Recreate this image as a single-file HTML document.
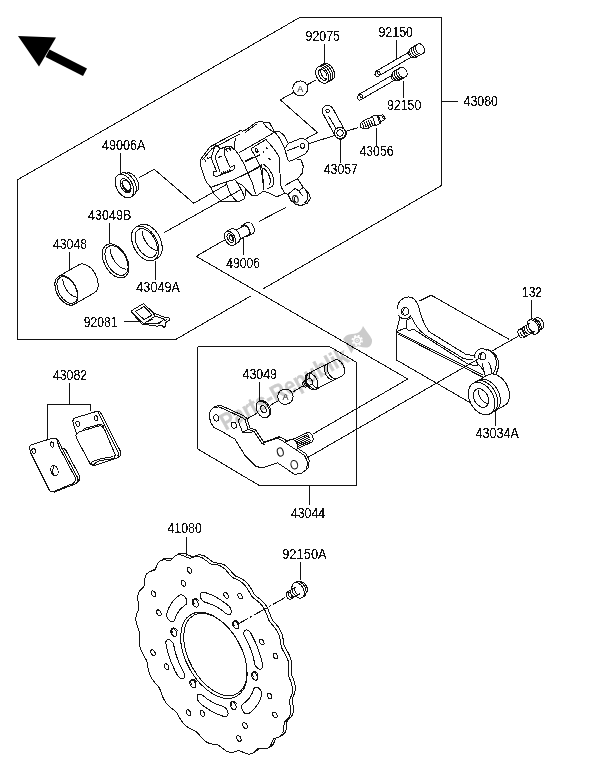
<!DOCTYPE html>
<html><head><meta charset="utf-8"><title>Rear Brake</title>
<style>
html,body{margin:0;padding:0;background:#fff;}
body{width:600px;height:775px;overflow:hidden;font-family:"Liberation Sans",sans-serif;}
svg{display:block;filter:grayscale(1);}
.l{fill:none;stroke:#111;stroke-width:1;stroke-linecap:butt;stroke-linejoin:round;shape-rendering:crispEdges;}
.f{fill:#fff;stroke:#111;stroke-width:1;stroke-linejoin:round;shape-rendering:crispEdges;}
.t{font-family:"Liberation Sans",sans-serif;font-size:14px;fill:#111;stroke:#111;stroke-width:0.12px;}
.n{fill:#fff;stroke:none;}
</style></head><body>
<svg width="600" height="775" viewBox="0 0 600 775">
<defs><filter id="thr" x="0" y="0" width="100%" height="100%" filterUnits="userSpaceOnUse" color-interpolation-filters="sRGB"><feComponentTransfer><feFuncA type="discrete" tableValues="0 0 0 0 0 0 0 0 0 0 1 1 1 1 1 1 1 1 1 1"/></feComponentTransfer></filter></defs>
<rect width="600" height="775" fill="#fff"/>

<g class="l" id="frames">
<polyline points="17.5,179.8 299.7,17.5 441.5,17.5 441.5,185.5 175.7,339.5 17.5,339.5 17.5,179.8" />
<polyline points="441.5,101.5 457.5,101.5" />
<polyline points="197.5,346.5 329.5,346.5 356.5,362.3 356.5,485.5 259.3,485.5 197.5,448.8 197.5,346.5" />
<polyline points="309.5,485.5 309.5,505" />
<line x1="251" y1="295.7" x2="263.2" y2="288.6" stroke="#fff" stroke-width="3"/>
<polyline points="224.5,240 196.2,256.3 407.8,379 313,434" />
</g>
<g id="p92075">
<polyline class="l" points="324.50,43.50 324.50,64.00" />
<path class="f" d="M326.62,82.84 L332.34,79.54 A9.0,5.8 61 0 0 323.50,63.86 L317.78,67.16 A9.0,5.8 61 0 0 326.62,82.84 Z" /><ellipse class="l" cx="322.20" cy="75.00" rx="9.0" ry="5.8" transform="rotate(61 322.20 75.00)"/>
<path class="l" d="M328.53,81.74 A9.0,5.8 61 0 0 319.69,66.06" />
<path class="l" d="M330.43,80.64 A9.0,5.8 61 0 0 321.59,64.96" />
<ellipse class="l" cx="322.80" cy="74.80" rx="5.9" ry="3.6" transform="rotate(61 322.80 74.80)"/>
<path class="l" d="M326.0,79.7 A5.9,3.6 61 0 1 320.4,69.4" transform="translate(1.5,-0.8)"/>
</g>
<g id="cA1">
<polyline class="l" points="306.50,85.20 316.50,79.60" />
<polyline class="l" points="293.80,92.30 280.30,99.80 317.50,132.50 306.50,138.60" />
<circle class="f" cx="300.3" cy="88.4" r="7.5"/>
<text x="300.2" y="91.8" text-anchor="middle" font-family="Liberation Sans, sans-serif" font-size="9" fill="#222">A</text>
</g>
<polyline class="l" points="396.50,40.00 396.50,59.50" />
<g id="pin1"><path class="f" d="M379.38,75.58 L414.02,55.58 L411.27,50.82 L376.62,70.82 A2.0,2.9 30 0 0 379.38,75.58 Z" /><ellipse class="l" cx="378.70" cy="72.80" rx="1.9" ry="1.2" transform="rotate(61 378.70 72.80)"/><path class="f" d="M413.02,57.14 L415.62,55.64 A3.6,2.3 61 0 0 412.09,49.36 L409.49,50.86 A3.6,2.3 61 0 0 413.02,57.14 Z" /><path class="f" d="M416.28,57.22 L423.21,53.22 A5.3,3.4 61 0 0 418.01,43.98 L411.08,47.98 A5.3,3.4 61 0 0 416.28,57.22 Z" /><path class="l" d="M416.28,57.22 A5.3,3.4 61 0 1 411.08,47.98" /><path class="l" d="M418.19,56.12 A5.3,3.4 61 0 1 412.98,46.88" /><path class="l" d="M420.09,55.02 A5.3,3.4 61 0 1 414.89,45.78" /><path class="l" d="M422.00,53.92 A5.3,3.4 61 0 1 416.79,44.68" /></g>
<polyline class="l" points="403.50,81.00 403.50,98.00" />
<g id="pin2"><path class="f" d="M361.98,98.98 L396.62,78.98 L393.87,74.22 L359.23,94.22 A2.0,2.9 30 0 0 361.98,98.98 Z" /><ellipse class="l" cx="361.30" cy="96.20" rx="1.9" ry="1.2" transform="rotate(61 361.30 96.20)"/><path class="f" d="M395.62,80.54 L398.22,79.04 A3.6,2.3 61 0 0 394.69,72.76 L392.09,74.26 A3.6,2.3 61 0 0 395.62,80.54 Z" /><path class="f" d="M398.88,80.62 L405.81,76.62 A5.3,3.4 61 0 0 400.61,67.38 L393.68,71.38 A5.3,3.4 61 0 0 398.88,80.62 Z" /><path class="l" d="M398.88,80.62 A5.3,3.4 61 0 1 393.68,71.38" /><path class="l" d="M400.79,79.52 A5.3,3.4 61 0 1 395.58,70.28" /><path class="l" d="M402.69,78.42 A5.3,3.4 61 0 1 397.49,69.18" /><path class="l" d="M404.60,77.32 A5.3,3.4 61 0 1 399.39,68.08" /></g>
<g id="p43057">
<polyline class="l" points="340.80,139.00 340.80,162.50" />
<polyline class="l" points="308.50,143.80 334.30,135.60" />
<polyline class="l" points="345.60,131.50 358.00,127.60" />
<path class="f" d="M322.8,113.4 L335.2,135.8 A5.8,5.8 0 1 0 344.0,128.8 L332.8,108.4 A5.3,5.3 0 1 0 322.8,113.4 Z" />
<circle class="l" cx="340" cy="133" r="3.1"/>
<circle class="l" cx="340" cy="133" r="5.7"/>
<circle class="l" cx="327.6" cy="110.8" r="1.8"/>
<polyline class="l" points="328.60,116.20 336.60,129.40" />
</g>
<g id="p43056">
<polyline class="l" points="376.30,128.00 376.30,145.50" />
<path class="f" d="M360.0,123.6 L365.5,119.6 L371,117.8 L372.3,116.2 L376.8,115.0 L378.4,116.0 L382.8,114.8 L385.0,117.0 L384.4,120.0 L380.8,121.8 L380.0,123.6 L375.6,125.6 L374.2,124.8 L368.6,128.0 L363.2,128.8 L360.2,127.0 Z" />
<polyline class="l" points="362.00,122.80 364.30,128.30" />
<polyline class="l" points="364.10,122.00 366.40,127.50" />
<polyline class="l" points="366.20,121.20 368.50,126.70" />
<polyline class="l" points="368.30,120.40 370.60,125.90" />
<polyline class="l" points="370.40,119.60 372.70,125.10" />
<polyline class="l" points="372.30,116.20 375.60,125.60" />
<polyline class="l" points="376.80,115.00 380.00,123.60" />
<polyline class="l" points="378.40,116.00 380.80,121.80" />
<ellipse class="l" cx="383.80" cy="117.60" rx="1.8" ry="1.0" transform="rotate(61 383.80 117.60)"/>
</g>
<g id="p49006A">
<polyline class="l" points="120.50,153.00 120.50,172.50" />
<polyline class="l" points="139.30,177.50 154.30,169.30 193.80,203.30" />
<path class="f" d="M133.21,193.63 L136.32,191.83 A10.6,6.8 61 0 0 125.91,173.37 L122.79,175.17 A10.6,6.8 61 0 0 133.21,193.63 Z" /><ellipse class="l" cx="128.00" cy="184.40" rx="10.6" ry="6.8" transform="rotate(61 128.00 184.40)"/>
<path class="f" d="M130.68,197.25 L133.45,195.65 A12.8,8.1 61 0 0 120.89,173.35 L118.12,174.95 A12.8,8.1 61 0 0 130.68,197.25 Z" /><ellipse class="l" cx="124.40" cy="186.10" rx="12.8" ry="8.1" transform="rotate(61 124.40 186.10)"/>
<ellipse class="l" cx="125.60" cy="185.70" rx="7.6" ry="4.6" transform="rotate(61 125.60 185.70)"/>
<ellipse class="l" cx="126.60" cy="185.30" rx="5.6" ry="3.2" transform="rotate(61 126.60 185.30)"/>
<path class="l" d="M130.5,190.3 A6,3.5 61 0 1 124.6,179.8" transform="translate(-1.4,0.8)"/>
</g>
<g id="p43049B">
<polyline class="l" points="109.50,223.00 109.50,243.80" />
<ellipse class="l" cx="115.60" cy="260.90" rx="18.4" ry="11.4" transform="rotate(61 115.60 260.90)"/>
<ellipse class="l" cx="116.50" cy="260.50" rx="16.2" ry="9.7" transform="rotate(61 116.50 260.50)"/>
<path class="l" d="M125.0,269.6 A16.2,9.7 61 0 1 109.2,249.4" transform="translate(0.9,-0.5)"/>
</g>
<g id="p43049A">
<polyline class="l" points="155.50,261.00 155.50,279.50" />
<path class="f" d="M154.43,259.88 L157.89,257.88 A18.8,11.8 61 0 0 139.44,225.12 L135.97,227.12 A18.8,11.8 61 0 0 154.43,259.88 Z" /><ellipse class="l" cx="145.20" cy="243.50" rx="18.8" ry="11.8" transform="rotate(61 145.20 243.50)"/>
<ellipse class="l" cx="146.20" cy="243.00" rx="15.6" ry="9.4" transform="rotate(61 146.20 243.00)"/>
<path class="l" d="M154.6,252.2 A15.6,9.4 61 0 1 139.2,232.6" transform="translate(3.0,-1.7)"/>
</g>
<g id="p43048">
<polyline class="l" points="69.50,252.00 69.50,270.00" />
<path class="f" d="M74.25,304.34 L94.60,292.59 A16.0,9.9 61 0 0 78.90,264.71 L58.55,276.46 A16.0,9.9 61 0 0 74.25,304.34 Z" /><ellipse class="l" cx="66.40" cy="290.40" rx="16.0" ry="9.9" transform="rotate(61 66.40 290.40)"/>
<ellipse class="l" cx="67.20" cy="290.00" rx="14.4" ry="8.7" transform="rotate(61 67.20 290.00)"/>
<path class="l" d="M75.0,298.4 A14.4,8.7 61 0 1 60.6,280.4" transform="translate(2.2,-1.2)"/>
</g>
<g id="p92081">
<polyline class="l" points="124.00,321.50 138.50,321.50" />
<path class="f" d="M131.0,311.0 L143.5,303.5 L153.0,312.5 L162.0,316.5 L169.0,318.0 L169.6,320.0 L167.0,322.0 L165.0,323.0 L166.0,326.0 L163.6,327.6 L162.0,325.0 L157.0,326.2 L150.0,325.2 L145.0,324.2 L142.0,324.0 L132.5,313.5 Z" />
<path class="f" d="M135.5,311.5 L144.0,306.5 L152.2,315.0 L144.0,319.6 Z" />
<path class="l" d="M131.0,311.0 L140.5,321.2 L144.0,323.5 L155.0,316.2 L153.0,312.5" />
<path class="l" d="M155.0,316.2 L164.0,319.0 L167.0,322.0" />
<path class="l" d="M144.0,323.5 L150.0,324.0 L158.0,323.2 L162.0,321.2 L164.0,319.0" />
<polyline class="l" points="148.00,321.20 153.00,319.00" stroke-width="1.6"/>
<polyline class="l" points="159.20,323.20 161.20,322.00" stroke-width="1.6"/>
<polyline class="l" points="164.20,320.60 167.20,319.40" stroke-width="1.6"/>
</g>
<g id="p49006" transform="translate(1.0,0.9)">
<polyline class="l" points="242.50,236.00 242.50,253.80" />
<polyline class="l" points="285.00,206.60 257.80,220.60" />
<path class="f" d="M247.64,235.00 L251.97,232.50 A6.2,3.9 61 0 0 245.89,221.70 L241.56,224.20 A6.2,3.9 61 0 0 247.64,235.00 Z" /><ellipse class="l" cx="244.60" cy="229.60" rx="6.2" ry="3.9" transform="rotate(61 244.60 229.60)"/>
<path class="l" d="M249.04,234.20 A6.2,3.9 61 0 1 242.96,223.40" />
<path class="f" d="M238.06,239.16 L247.15,233.91 A5.0,3.2 61 0 0 242.24,225.19 L233.14,230.44 A5.0,3.2 61 0 0 238.06,239.16 Z" />
<path class="f" d="M232.78,244.11 L237.28,241.51 A7.7,4.9 61 0 0 229.72,228.09 L225.22,230.69 A7.7,4.9 61 0 0 232.78,244.11 Z" /><ellipse class="l" cx="229.00" cy="237.40" rx="7.7" ry="4.9" transform="rotate(61 229.00 237.40)"/>
<ellipse class="l" cx="229.40" cy="237.20" rx="4.6" ry="2.8" transform="rotate(61 229.40 237.20)"/>
<ellipse class="l" cx="230.00" cy="236.90" rx="2.6" ry="1.5" transform="rotate(61 230.00 236.90)"/>
</g><g id="caliper">
<path class="f" d="M200.3,159.9 L210.2,146.5 L241.1,130.2 L242.8,131.3 L246.3,129.6 L255.7,122.6 L258.6,121.8 L263.1,122.0 L269.5,122.6 L274.2,131.3 L280.0,131.9 L284.7,136.0 L288.2,143.4 L301.0,138.3 L305.7,139.5 L308.6,143.0 L308.8,148.8 L305.7,153.5 L295.2,158.8 L301.0,159.6 L303.3,166.3 L302.2,173.3 L297.5,178.6 L303.3,187.3 L308.8,193.5 L310.4,198.0 L307.5,203.0 L301.5,205.4 L295.5,204.6 L291.0,200.4 L288.0,194.4 L284.7,193.4 L276.5,196.9 L268.3,192.8 L263.7,191.0 L256.7,195.7 L252.0,195.7 L246.0,189.0 L244.6,198.4 L241.1,200.8 L233.5,201.9 L223.0,201.9 L219.5,199.6 L214.3,194.3 L210.8,187.3 L206.7,182.7 L203.8,175.7 L200.8,166.3 Z" />
<path class="l" d="M202.6,159.6 L211.8,148.9 L239.6,134.0" />
<path class="l" d="M245.0,132.6 L256.7,123.9" />
<path class="l" d="M263.1,122.3 L266.0,126.7 L274.2,132.5" />
<path class="l" d="M238.8,152.9 L274.2,132.5 L275.4,133.6" />
<path class="l" d="M244.6,161.1 L253.3,157.0" />
<path class="l" d="M210.2,146.5 L215.5,144.5 L211.0,158.0 L216.5,171.0 L213.5,172.0 L213.0,174.5 L215.5,176.5 L218.5,176.0 L233.0,170.0 L235.0,168.0 L234.5,165.5 L231.5,166.5" />
<path class="l" d="M220.0,148.5 C219.2,149.9 215.9,154.3 215.5,157.0 C215.1,159.7 216.8,162.1 217.6,164.5 C218.3,166.9 219.6,170.3 220.0,171.5" />
<path class="l" d="M215.5,144.5 L220.0,148.5 L225.0,147.5 L226.0,146.3 L231.0,146.3 L234.0,149.5" />
<path class="l" d="M225.0,147.5 L224.0,154.0 L230.5,168.0" />
<path class="l" d="M217.8,157.6 L222.4,156.0" />
<path class="l" d="M208.4,158.2 L210.6,157.6" />
<path class="l" d="M204.4,158.6 L205.6,161.6" />
<path class="l" d="M207.0,156.6 L208.2,159.6" />
<path class="l" d="M225.8,147.8 L227.4,151.6" />
<path class="l" d="M229.0,147.0 L230.6,150.8" />
<path class="l" d="M225.2,149.6 L231.0,148.0" />
<path class="l" d="M220.6,175.2 L221.6,172.5 L222.6,174.5 L223.6,171.8 L224.6,173.8 L225.6,171.1 L226.6,173.0 L227.6,170.4 L228.6,172.3 L229.6,169.7 L230.6,171.6" />
<path class="l" d="M235.3,138.3 L234.1,148.8 L238.8,154.7 L244.0,164.0 L247.5,172.2 L252.2,182.7 L255.7,194.3" />
<path class="l" d="M210.8,187.3 L227.7,181.5 L233.5,179.8 L248.1,172.8 L256.8,168.7 L261.3,165.6" />
<path class="l" d="M226.5,182.4 C226.7,183.2 227.1,185.5 227.7,187.3 C228.3,189.1 229.0,191.4 230.0,193.2 C231.0,194.9 232.3,196.5 233.5,197.8 C234.7,199.2 236.4,200.7 237.0,201.3" />
<path class="l" d="M235.3,180.4 C235.7,180.9 236.7,182.0 237.6,183.3 C238.5,184.7 239.5,186.7 240.5,188.5 C241.5,190.3 242.7,192.7 243.4,194.3 C244.1,196.0 244.4,197.7 244.6,198.4" />
<path class="l" d="M237.6,183.3 C238.3,183.6 240.2,183.9 241.7,185.0 C243.1,186.1 244.9,188.1 246.3,189.7 C247.8,191.2 248.8,193.3 250.4,194.3 C252.0,195.3 254.8,195.3 255.7,195.5" />
<path class="l" d="M251.0,148.8 L256.7,159.3 L260.3,166.3 L262.2,176.0 L263.8,189.7" />
<path class="l" d="M250.8,148.8 L266.0,139.5 L273.0,147.7 L278.3,155.3" />
<path class="l" d="M245.0,161.9 L260.2,154.7" />
<path class="l" d="M245.0,174.5 L261.3,165.2" />
<ellipse class="l" cx="256.60" cy="150.40" rx="2.0" ry="1.1" transform="rotate(61 256.60 150.40)"/>
<path class="l" d="M262.6,150.6 L264.2,153.4" />
<path class="l" d="M268.6,158.0 L270.6,160.2" />
<path class="l" d="M266.2,147.2 L267.6,149.2" />
<path class="l" d="M278.8,154.7 C278.9,156.2 279.4,160.9 279.6,164.0 C279.8,167.1 279.8,169.8 280.0,173.3 C280.2,176.8 279.8,181.7 280.6,185.0 C281.4,188.3 284.0,191.8 284.7,193.2" />
<path class="l" d="M261.3,164.0 C261.5,165.2 262.2,168.3 262.5,171.0 C262.8,173.7 262.9,177.2 263.1,180.3 C263.3,183.4 263.6,188.1 263.7,189.7" />
<path class="l" d="M263.1,164.0 C264.2,165.0 267.8,167.3 269.5,169.8 C271.2,172.3 273.1,176.5 273.6,179.2 C274.1,181.9 273.5,184.6 272.4,186.2 C271.3,187.8 268.1,188.1 267.2,188.5" />
<path class="l" d="M263.6,168.0 C264.3,168.9 266.9,171.2 268.0,173.2 C269.1,175.2 270.2,178.2 270.4,180.2 C270.6,182.2 269.4,184.5 269.2,185.4" />
<path class="l" d="M274.2,131.3 C274.8,132.1 276.7,134.1 278.0,136.0 C279.3,137.9 280.9,140.9 282.0,143.0 C283.1,145.1 284.0,146.9 284.7,148.8 C285.4,150.8 285.7,152.6 286.4,154.7 C287.1,156.8 287.3,160.4 288.8,161.1 C290.3,161.8 294.1,159.2 295.2,158.8" />
<path class="l" d="M284.7,148.8 L288.2,143.4" />
<circle class="l" cx="302.4" cy="145.9" r="2.4"/>
<path class="l" d="M286.8,150.8 L299.0,146.4" />
<path class="l" d="M297.5,178.6 L284.7,185.6" />
<path class="l" d="M288.0,194.4 L295.2,188.3 L298.7,190.8 L303.2,196.4" />
<path class="l" d="M298.7,190.8 L303.3,187.3" />
<ellipse class="l" cx="295.40" cy="199.20" rx="3.8" ry="2.7" transform="rotate(75 295.40 199.20)"/>
<path class="l" d="M294.2,202.2 A3.8,2.7 75 0 1 294.6,196.0" transform="translate(1.3,0.2)"/>
<path class="l" d="M305.6,190.2 C305.9,190.9 307.3,193.0 307.6,194.6 C307.9,196.2 307.9,198.2 307.4,199.6 C306.9,201.0 305.1,202.4 304.6,203.0" />
</g><g id="p43034A">
<path class="n" d="M396.5,331.6 L396.5,360.0 L470.7,403.0 L483.5,395.0 L483.5,375.2 L508.2,338.8 L431.2,295.2 L420.3,300.6 L404.0,312.0 Z" />
<path class="l" d="M396.5,331.6 L396.5,360.0 L470.7,403.0" />
<path class="l" d="M508.8,339.2 L431.2,295.2 L419.6,301.0" />
<path class="l" d="M396.5,331.6 L483.2,375.2" />
<path class="l" d="M397.6,333.8 L483.2,377.4" />
<path class="f" d="M396.5,331.6 L399.8,317.5 L397.6,306.6 C398.5,301.5 402,297.6 408.4,296.9 C413.5,297.2 417.5,301.5 419.3,308.8 C420.5,315 422.5,321.8 429,331.6 L465.8,354.3 L475.5,355.8 L478,366 L468.4,364.4 L413.8,329.4 L408.6,330.7 L406.3,328.3 L402.4,329.2 L396.5,331.6 Z" />
<path class="l" d="M411.7,317.5 C413.5,322 416,327.5 424.7,334.8 L463.7,358.7 L473.4,359.8" />
<path class="l" d="M406.3,328.3 L406.0,320.5 L411.7,317.5" />
<path class="l" d="M413.8,329.4 L468.4,364.4" />
<circle class="n" cx="404.7" cy="311.4" r="7.0"/>
<path class="l" d="M411.2,314.8 A7.4,7.4 0 0 1 398.4,315.2" />
<circle class="l" cx="404.9" cy="311.4" r="3.8"/>
<path class="l" d="M402.6,313.8 A3.3,3.3 0 0 1 403.6,308.4" transform="translate(1.2,0.2)"/>
<path class="f" d="M485.0,349.2 C490.5,349.6 496.2,353.5 498.2,360.2 C499.4,366.5 497.4,372.8 493.4,377.6 L486,379 L482.1,363.5 Z" />
<path class="l" d="M488.6,350.2 C494,352.5 496.4,357 496.4,363.2 C496.2,369 494,373.4 490.6,378.2" />
<circle class="n" cx="482.1" cy="356.3" r="7.0"/>
<path class="l" d="M474.9,358.0 A7.4,7.4 0 0 1 487.6,351.3" />
<circle class="l" cx="482.3" cy="356.3" r="3.7"/>
<path class="l" d="M480.0,358.7 A3.2,3.2 0 0 1 481.0,353.4" transform="translate(1.2,0.2)"/>
<path class="l" d="M476.2,361.6 C480,366.5 485.0,370 485.2,376.0 L485.4,381.2 L492,385.4 M488.4,361.6 C491.6,366.5 492.0,372.2 490.8,378.6 L493.8,382.2" />
<path class="f" d="M490.16,413.75 L504.88,405.25 A17.4,11.8 61 0 0 487.77,374.95 L473.04,383.45 A17.4,11.8 61 0 0 490.16,413.75 Z" /><ellipse class="l" cx="481.60" cy="398.60" rx="17.4" ry="11.8" transform="rotate(61 481.60 398.60)"/>
<ellipse class="l" cx="481.00" cy="398.00" rx="10.0" ry="6.9" transform="rotate(61 481.00 398.00)"/>
<path class="l" d="M486.2,405.0 A10,6.9 61 0 1 476.0,391.2" transform="translate(2.6,-1.5)"/>
<path class="l" d="M493.10,412.05 A17.4,11.8 61 0 0 475.99,381.75" />
<path class="l" d="M495.70,410.55 A17.4,11.8 61 0 0 478.59,380.25" />
<polyline class="l" points="495.60,410.00 495.60,425.60" />
</g>
<polyline class="l" points="531.60,300.40 531.60,318.20" />
<polyline class="l" points="518.20,336.20 489.50,352.40" />
<g id="p132"><path class="f" d="M537.38,331.40 L542.23,328.60 A6.084,3.9779999999999998 61 0 0 536.25,318.00 L531.40,320.80 A6.084,3.9779999999999998 61 0 0 537.38,331.40 Z" /><path class="l" d="M539.56,330.14 A6.084,3.9779999999999998 61 0 0 533.58,319.54" /><path class="f" d="M536.66,333.79 L538.22,332.89 A7.8,5.1 61 0 0 530.56,319.31 L529.00,320.21 A7.8,5.1 61 0 0 536.66,333.79 Z" /><ellipse class="l" cx="532.83" cy="327.00" rx="7.8" ry="5.1" transform="rotate(61 532.83 327.00)"/><path class="n" d="M523.71,337.69 L535.14,331.09 L530.52,322.91 L519.09,329.51 Z" /><polyline class="l" points="523.71,337.69 535.14,331.09" /><polyline class="l" points="519.09,329.51 530.52,322.91" /><ellipse class="f" cx="521.40" cy="333.60" rx="4.7" ry="3.1" transform="rotate(61 521.40 333.60)"/><path class="l" d="M525.87,336.45 A4.7,3.1 61 0 1 521.25,328.26" /><path class="l" d="M528.02,335.20 A4.7,3.1 61 0 1 523.40,327.02" /><path class="l" d="M530.18,333.96 A4.7,3.1 61 0 1 525.56,325.77" /><path class="l" d="M532.34,332.71 A4.7,3.1 61 0 1 527.72,324.53" /><path class="l" d="M534.49,331.47 A4.7,3.1 61 0 1 529.87,323.28" /></g><g id="p43049">
<polyline class="l" points="259.50,382.00 259.50,400.50" />
<polyline class="l" points="256.60,413.40 244.50,420.20" />
<polyline class="l" points="270.00,405.40 278.40,400.60" />
<polyline class="l" points="292.40,392.20 302.40,386.20" />
<path class="f" d="M267.22,417.34 L268.43,416.64 A9.0,5.9 61 0 0 259.59,400.96 L258.38,401.66 A9.0,5.9 61 0 0 267.22,417.34 Z" /><ellipse class="l" cx="262.80" cy="409.50" rx="9.0" ry="5.9" transform="rotate(61 262.80 409.50)"/>
<ellipse class="l" cx="263.40" cy="409.20" rx="3.8" ry="2.5" transform="rotate(61 263.40 409.20)"/>
<circle class="f" cx="285.4" cy="396.7" r="7.7"/>
<text x="285.4" y="399.8" text-anchor="middle" font-family="Liberation Sans, sans-serif" font-size="9" fill="#222">A</text>
</g>
<g id="damper" transform="rotate(3 311.6 381.6)">
<path class="f" d="M315.92,389.27 L341.90,374.27 A8.8,5.6 61 0 0 333.26,358.93 L307.28,373.93 A8.8,5.6 61 0 0 315.92,389.27 Z" /><ellipse class="l" cx="311.60" cy="381.60" rx="8.8" ry="5.6" transform="rotate(61 311.60 381.60)"/>
<path class="l" d="M317.31,388.47 A8.8,5.6 61 0 1 308.67,373.13" />
<path class="l" d="M319.90,386.97 A8.8,5.6 61 0 1 311.26,371.63" />
<path class="l" d="M334.54,378.52 A8.8,5.6 61 0 1 325.90,363.18" />
<path class="l" d="M337.14,377.02 A8.8,5.6 61 0 1 328.50,361.68" />
<path class="f" d="M306.27,387.21 L311.90,383.96 A3.0,1.9 61 0 0 308.96,378.74 L303.33,381.99 A3.0,1.9 61 0 0 306.27,387.21 Z" /><ellipse class="l" cx="304.80" cy="384.60" rx="3.0" ry="1.9" transform="rotate(61 304.80 384.60)"/>
<path class="l" d="M307.57,386.46 A3.0,1.9 61 0 1 304.63,381.24" />
<path class="l" d="M308.87,385.71 A3.0,1.9 61 0 1 305.93,380.49" />
<path class="l" d="M310.17,384.96 A3.0,1.9 61 0 1 307.22,379.74" />
</g>
<g id="p43044">
<path class="f" d="M211.2,412.2 L212.2,409.0 L214.7,406.5 L220.4,405.2 L242.9,415.5 L246.7,418.0 L249.9,428.0 L255.7,430.0 L263.7,442.0 L279.2,436.8 L284.2,439.2 L306.2,454.0 L309.2,460.5 L308.2,468.0 L302.7,472.2 L295.7,472.8 L289.2,468.0 L279.2,461.2 L264.2,466.2 L257.7,465.0 L246.7,454.0 L236.7,437.8 L224.2,430.2 L215.4,426.0 L211.9,420.0 Z" />
<g transform="rotate(5 290.0 446.4)">
<path class="f" d="M292.55,450.93 L311.17,440.18 A5.2,3.3 61 0 0 306.07,431.12 L287.45,441.87 A5.2,3.3 61 0 0 292.55,450.93 Z" />
<polyline class="l" points="294.41,440.04 306.97,432.79" />
<polyline class="l" points="295.26,441.51 307.82,434.26" />
<polyline class="l" points="296.11,442.99 308.67,435.74" />
<polyline class="l" points="296.96,444.46 309.52,437.21" />
<polyline class="l" points="297.81,445.93 310.37,438.68" />
<path class="f" d="M291.45,452.53 L296.21,449.78 A6.0,3.8 61 0 0 290.32,439.32 L285.55,442.07 A6.0,3.8 61 0 0 291.45,452.53 Z" />
</g>
<path class="f" d="M209.5,413.8 L210.5,410.5 L213.0,408.0 L218.8,406.8 L241.2,417.0 L245.0,419.5 L248.2,429.5 L254.0,431.5 L262.0,443.5 L277.5,438.2 L282.5,440.8 L304.5,455.5 L307.5,462.0 L306.5,469.5 L301.0,473.8 L294.0,474.2 L287.5,469.5 L277.5,462.8 L262.5,467.8 L256.0,466.5 L245.0,455.5 L235.0,439.2 L222.5,431.8 L213.8,427.5 L210.2,421.5 Z" />
<path class="l" d="M241.2,417.0 L238.0,420.5 L242.5,432.0 L248.2,429.5" />
<path class="l" d="M242.5,432.0 L248.8,433.0 L254.0,431.5" />
<path class="l" d="M262.0,443.5 L265.5,445.5" />
<ellipse class="l" cx="216.25" cy="418.00" rx="3.2" ry="2.5" transform="rotate(70 216.25 418.00)"/>
<ellipse class="l" cx="233.75" cy="425.25" rx="3.2" ry="2.5" transform="rotate(70 233.75 425.25)"/>
<ellipse class="l" cx="280.30" cy="452.00" rx="4.2" ry="2.9" transform="rotate(75 280.30 452.00)"/>
<ellipse class="l" cx="294.30" cy="464.70" rx="4.3" ry="3.3" transform="rotate(75 294.30 464.70)"/>
</g>
<g id="p43082">
<polyline class="l" points="69.50,383.00 69.50,404.50" />
<polyline class="l" points="47.50,438.60 47.50,404.50 90.50,404.50 90.50,411.40" />
<path class="f" d="M63.1,448.0 L65.8,450.1 L79.6,476.1 L80.0,479.9 L76.5,483.2 L73.2,480.7 L59.4,448.0 Z" />
<path class="f" d="M53.9,438.1 L57.6,439.1 L61.8,448.0 L77.2,477.0 L78.3,480.3 L75.0,484.0 L54.1,492.2 L53.0,491.7 Z" />
<path class="f" d="M29.5,448.0 Q29.5,445.5 31.7,444.7 L52.6,438.1 Q55.6,437.8 57.0,440.3 L59.4,447.7 L75.0,477.0 Q76.5,481.0 73.2,483.4 L53.4,491.7 Q50.4,492.4 49.0,489.5 L31.0,453.5 Z" />
<ellipse class="l" cx="33.75" cy="450.97" rx="2.6" ry="1.8" transform="rotate(72 33.75 450.97)"/>
<ellipse class="l" cx="52.08" cy="444.55" rx="2.6" ry="1.8" transform="rotate(72 52.08 444.55)"/>
<ellipse class="l" cx="54.47" cy="470.58" rx="5.2" ry="3.5" transform="rotate(72 54.47 470.58)"/>
<path class="l" d="M53.6,474.6 Q51.5,470.6 54.1,466.4" />
<path class="f" d="M72.8,421.6 Q72.8,418.7 75.4,417.8 L96.6,411.4 Q99.9,410.6 101.4,413.9 L120.8,452.1 L120.5,455.4 L117.2,457.9 L93.3,466.0 L76.8,434.8 Z" />
<path class="l" d="M98.1,411.7 L99.6,415.4 L118.5,453.2 L117.9,456.1" />
<ellipse class="l" cx="77.75" cy="423.83" rx="2.6" ry="1.8" transform="rotate(72 77.75 423.83)"/>
<ellipse class="l" cx="96.08" cy="418.33" rx="2.6" ry="1.8" transform="rotate(72 96.08 418.33)"/>
<path class="f" d="M75.9,435.2 Q78.3,431.5 82.7,430.8 L93.3,427.5 L100.7,425.7 Q103.6,426.8 105.3,431.2 L115.3,455.0 L113.5,458.7 L100.7,460.5 Q95.5,462.0 93.3,465.3 L90.4,464.2 L76.8,438.9 Z" />
<path class="l" d="M90.4,464.2 Q91.9,461.6 94.1,460.9 L100.7,458.7 L113.5,456.5" />
<path class="l" d="M82.7,430.8 Q83.1,429.0 85.3,428.2 L100.7,424.2" />
<path class="l" d="M100.7,424.2 L102.9,425.3 L103.6,426.8" />
</g><g id="rotor">
<path class="f" d="M269.3,747.1 L267.9,747.3 L266.3,747.4 L264.8,747.2 L263.2,747.0 L261.7,746.9 L260.3,747.2 L259.3,748.1 L258.3,749.1 L257.3,750.2 L256.2,751.1 L255.0,751.8 L253.7,752.3 L252.3,752.5 L250.8,752.4 L249.2,752.0 L247.5,751.4 L245.9,750.7 L244.2,749.9 L242.6,749.2 L241.1,748.9 L239.8,749.3 L238.4,749.8 L237.1,750.3 L235.7,750.6 L234.2,750.7 L232.7,750.6 L231.1,750.2 L229.5,749.6 L227.9,748.7 L226.3,747.5 L224.6,746.3 L223.0,745.0 L221.5,743.7 L219.9,742.9 L218.4,742.7 L216.8,742.6 L215.2,742.4 L213.6,742.2 L212.0,741.7 L210.4,741.1 L208.8,740.1 L207.3,738.9 L205.7,737.5 L204.2,735.9 L202.8,734.2 L201.4,732.5 L200.0,730.9 L198.5,729.6 L196.9,728.8 L195.2,728.1 L193.6,727.4 L191.9,726.5 L190.3,725.5 L188.7,724.3 L187.2,722.9 L185.8,721.3 L184.5,719.5 L183.3,717.6 L182.1,715.6 L181.0,713.6 L179.9,711.7 L178.6,710.0 L177.0,708.8 L175.4,707.5 L173.8,706.3 L172.2,704.9 L170.7,703.4 L169.3,701.8 L168.0,700.0 L166.9,698.1 L165.9,696.1 L165.0,694.0 L164.2,691.9 L163.5,689.8 L162.7,687.7 L161.8,685.9 L160.4,684.2 L159.0,682.5 L157.5,680.8 L156.1,679.1 L154.8,677.2 L153.7,675.3 L152.7,673.3 L152.0,671.3 L151.4,669.2 L151.0,667.1 L150.6,665.1 L150.3,663.0 L150.0,661.0 L149.4,659.0 L148.4,657.1 L147.2,655.1 L146.0,653.1 L145.0,651.1 L144.0,649.0 L143.3,647.0 L142.7,645.0 L142.4,643.0 L142.2,641.0 L142.3,639.1 L142.4,637.2 L142.6,635.3 L142.8,633.5 L142.6,631.6 L141.9,629.6 L141.1,627.5 L140.3,625.4 L139.7,623.2 L139.1,621.2 L138.8,619.2 L138.7,617.2 L138.8,615.4 L139.1,613.7 L139.6,612.1 L140.2,610.6 L140.9,609.1 L141.5,607.6 L141.7,606.0 L141.5,604.0 L141.2,601.9 L140.8,599.8 L140.6,597.8 L140.5,595.9 L140.7,594.0 L141.0,592.4 L141.6,590.9 L142.3,589.6 L143.3,588.4 L144.3,587.4 L145.3,586.4 L146.3,585.4 L147.0,584.1 L147.2,582.4 L147.3,580.5 L147.5,578.6 L147.8,576.8 L148.1,575.2 L148.7,573.7 L149.5,572.4 L150.5,571.4 L151.6,570.6 L152.9,570.0 L154.2,569.5 L155.6,569.1 L156.9,568.7 L158.0,567.8 L158.6,566.4 L159.2,564.9 L159.8,563.4 L160.5,562.0 L161.3,560.7 L162.3,559.7 L163.4,559.0 L164.7,558.5 L166.1,558.3 L167.7,558.2 L169.2,558.4 L170.8,558.6 L172.3,558.7 L173.7,558.4 L174.7,557.5 L175.7,556.5 L176.7,555.4 L177.8,554.5 L179.0,553.8 L180.3,553.3 L181.7,553.1 L183.2,553.2 L184.8,553.6 L186.5,554.2 L188.1,554.9 L189.8,555.7 L191.4,556.4 L192.9,556.7 L194.2,556.3 L195.6,555.8 L196.9,555.3 L198.3,555.0 L199.8,554.9 L201.3,555.0 L202.9,555.4 L204.5,556.0 L206.1,556.9 L207.7,558.1 L209.4,559.3 L211.0,560.6 L212.5,561.9 L214.1,562.7 L215.6,562.9 L217.2,563.0 L218.8,563.2 L220.4,563.4 L222.0,563.9 L223.6,564.5 L225.2,565.5 L226.7,566.7 L228.3,568.1 L229.8,569.7 L231.2,571.4 L232.6,573.1 L234.0,574.7 L235.5,576.0 L237.1,576.8 L238.8,577.5 L240.4,578.2 L242.1,579.1 L243.7,580.1 L245.3,581.3 L246.8,582.7 L248.2,584.3 L249.5,586.1 L250.7,588.0 L251.9,590.0 L253.0,592.0 L254.1,593.9 L255.4,595.6 L257.0,596.8 L258.6,598.1 L260.2,599.3 L261.8,600.7 L263.3,602.2 L264.7,603.8 L266.0,605.6 L267.1,607.5 L268.1,609.5 L269.0,611.6 L269.8,613.7 L270.5,615.8 L271.3,617.9 L272.2,619.7 L273.6,621.4 L275.0,623.1 L276.5,624.8 L277.9,626.5 L279.2,628.4 L280.3,630.3 L281.3,632.3 L282.0,634.3 L282.6,636.4 L283.0,638.5 L283.4,640.5 L283.7,642.6 L284.0,644.6 L284.6,646.6 L285.6,648.5 L286.8,650.5 L288.0,652.5 L289.0,654.5 L290.0,656.6 L290.7,658.6 L291.3,660.6 L291.6,662.6 L291.8,664.6 L291.7,666.5 L291.6,668.4 L291.4,670.3 L291.2,672.1 L291.4,674.0 L292.1,676.0 L292.9,678.1 L293.7,680.2 L294.3,682.4 L294.9,684.4 L295.2,686.4 L295.3,688.4 L295.2,690.2 L294.9,691.9 L294.4,693.5 L293.8,695.0 L293.1,696.5 L292.5,698.0 L292.3,699.6 L292.5,701.6 L292.8,703.7 L293.2,705.8 L293.4,707.8 L293.5,709.7 L293.3,711.6 L293.0,713.2 L292.4,714.7 L291.7,716.0 L290.7,717.2 L289.7,718.2 L288.7,719.2 L287.7,720.2 L287.0,721.5 L286.8,723.2 L286.7,725.1 L286.5,727.0 L286.2,728.8 L285.9,730.4 L285.3,731.9 L284.5,733.2 L283.5,734.2 L282.4,735.0 L281.1,735.6 L279.8,736.1 L278.4,736.5 L277.1,736.9 L276.0,737.8 L275.4,739.2 L274.8,740.7 L274.2,742.2 L273.5,743.6 L272.7,744.9 L271.7,745.9 L270.6,746.6 L269.3,747.1 Z" />
<path class="f" d="M266.5,748.7 L265.1,748.9 L263.5,749.0 L262.0,748.8 L260.4,748.6 L258.9,748.5 L257.5,748.8 L256.5,749.7 L255.5,750.7 L254.5,751.8 L253.4,752.7 L252.2,753.4 L250.9,753.9 L249.5,754.1 L248.0,754.0 L246.4,753.6 L244.7,753.0 L243.1,752.3 L241.4,751.5 L239.8,750.8 L238.3,750.5 L237.0,750.9 L235.6,751.4 L234.3,751.9 L232.9,752.2 L231.4,752.3 L229.9,752.2 L228.3,751.8 L226.7,751.2 L225.1,750.3 L223.5,749.1 L221.8,747.9 L220.2,746.6 L218.7,745.3 L217.1,744.5 L215.6,744.3 L214.0,744.2 L212.4,744.0 L210.8,743.8 L209.2,743.3 L207.6,742.7 L206.0,741.7 L204.5,740.5 L202.9,739.1 L201.4,737.5 L200.0,735.8 L198.6,734.1 L197.2,732.5 L195.7,731.2 L194.1,730.4 L192.4,729.7 L190.8,729.0 L189.1,728.1 L187.5,727.1 L185.9,725.9 L184.4,724.5 L183.0,722.9 L181.7,721.1 L180.5,719.2 L179.3,717.2 L178.2,715.2 L177.1,713.3 L175.8,711.6 L174.2,710.4 L172.6,709.1 L171.0,707.9 L169.4,706.5 L167.9,705.0 L166.5,703.4 L165.2,701.6 L164.1,699.7 L163.1,697.7 L162.2,695.6 L161.4,693.5 L160.7,691.4 L159.9,689.3 L159.0,687.5 L157.6,685.8 L156.2,684.1 L154.7,682.4 L153.3,680.7 L152.0,678.8 L150.9,676.9 L149.9,674.9 L149.2,672.9 L148.6,670.8 L148.2,668.7 L147.8,666.7 L147.5,664.6 L147.2,662.6 L146.6,660.6 L145.6,658.7 L144.4,656.7 L143.2,654.7 L142.2,652.7 L141.2,650.6 L140.5,648.6 L139.9,646.6 L139.6,644.6 L139.4,642.6 L139.5,640.7 L139.6,638.8 L139.8,636.9 L140.0,635.1 L139.8,633.2 L139.1,631.2 L138.3,629.1 L137.5,627.0 L136.9,624.8 L136.3,622.8 L136.0,620.8 L135.9,618.8 L136.0,617.0 L136.3,615.3 L136.8,613.7 L137.4,612.2 L138.1,610.7 L138.7,609.2 L138.9,607.6 L138.7,605.6 L138.4,603.5 L138.0,601.4 L137.8,599.4 L137.7,597.5 L137.9,595.6 L138.2,594.0 L138.8,592.5 L139.5,591.2 L140.5,590.0 L141.5,589.0 L142.5,588.0 L143.5,587.0 L144.2,585.7 L144.4,584.0 L144.5,582.1 L144.7,580.2 L145.0,578.4 L145.3,576.8 L145.9,575.3 L146.7,574.0 L147.7,573.0 L148.8,572.2 L150.1,571.6 L151.4,571.1 L152.8,570.7 L154.1,570.3 L155.2,569.4 L155.8,568.0 L156.4,566.5 L157.0,565.0 L157.7,563.6 L158.5,562.3 L159.5,561.3 L160.6,560.6 L161.9,560.1 L163.3,559.9 L164.9,559.8 L166.4,560.0 L168.0,560.2 L169.5,560.3 L170.9,560.0 L171.9,559.1 L172.9,558.1 L173.9,557.0 L175.0,556.1 L176.2,555.4 L177.5,554.9 L178.9,554.7 L180.4,554.8 L182.0,555.2 L183.7,555.8 L185.3,556.5 L187.0,557.3 L188.6,558.0 L190.1,558.3 L191.4,557.9 L192.8,557.4 L194.1,556.9 L195.5,556.6 L197.0,556.5 L198.5,556.6 L200.1,557.0 L201.7,557.6 L203.3,558.5 L204.9,559.7 L206.6,560.9 L208.2,562.2 L209.7,563.5 L211.3,564.3 L212.8,564.5 L214.4,564.6 L216.0,564.8 L217.6,565.0 L219.2,565.5 L220.8,566.1 L222.4,567.1 L223.9,568.3 L225.5,569.7 L227.0,571.3 L228.4,573.0 L229.8,574.7 L231.2,576.3 L232.7,577.6 L234.3,578.4 L236.0,579.1 L237.6,579.8 L239.3,580.7 L240.9,581.7 L242.5,582.9 L244.0,584.3 L245.4,585.9 L246.7,587.7 L247.9,589.6 L249.1,591.6 L250.2,593.6 L251.3,595.5 L252.6,597.2 L254.2,598.4 L255.8,599.7 L257.4,600.9 L259.0,602.3 L260.5,603.8 L261.9,605.4 L263.2,607.2 L264.3,609.1 L265.3,611.1 L266.2,613.2 L267.0,615.3 L267.7,617.4 L268.5,619.5 L269.4,621.3 L270.8,623.0 L272.2,624.7 L273.7,626.4 L275.1,628.1 L276.4,630.0 L277.5,631.9 L278.5,633.9 L279.2,635.9 L279.8,638.0 L280.2,640.1 L280.6,642.1 L280.9,644.2 L281.2,646.2 L281.8,648.2 L282.8,650.1 L284.0,652.1 L285.2,654.1 L286.2,656.1 L287.2,658.2 L287.9,660.2 L288.5,662.2 L288.8,664.2 L289.0,666.2 L288.9,668.1 L288.8,670.0 L288.6,671.9 L288.4,673.7 L288.6,675.6 L289.3,677.6 L290.1,679.7 L290.9,681.8 L291.5,684.0 L292.1,686.0 L292.4,688.0 L292.5,690.0 L292.4,691.8 L292.1,693.5 L291.6,695.1 L291.0,696.6 L290.3,698.1 L289.7,699.6 L289.5,701.2 L289.7,703.2 L290.0,705.3 L290.4,707.4 L290.6,709.4 L290.7,711.3 L290.5,713.2 L290.2,714.8 L289.6,716.3 L288.9,717.6 L287.9,718.8 L286.9,719.8 L285.9,720.8 L284.9,721.8 L284.2,723.1 L284.0,724.8 L283.9,726.7 L283.7,728.6 L283.4,730.4 L283.1,732.0 L282.5,733.5 L281.7,734.8 L280.7,735.8 L279.6,736.6 L278.3,737.2 L277.0,737.7 L275.6,738.1 L274.3,738.5 L273.2,739.4 L272.6,740.8 L272.0,742.3 L271.4,743.8 L270.7,745.2 L269.9,746.5 L268.9,747.5 L267.8,748.2 L266.5,748.7 Z" />
<ellipse class="l" cx="213.90" cy="655.30" rx="46.8" ry="27.8" transform="rotate(61.0 213.90 655.30)"/>
<ellipse class="l" cx="215.30" cy="654.50" rx="44.8" ry="26.3" transform="rotate(61.0 215.30 654.50)"/>
<path class="l" d="M240.4,741.3 L239.9,741.4 L239.3,741.4 L238.7,741.1 L238.1,740.7 L237.6,740.1 L237.1,739.4 L236.8,738.7 L236.6,737.9 L236.5,737.1 L236.6,736.5 L236.9,736.0 L237.3,735.6 L237.8,735.5 L238.4,735.5 L239.0,735.8 L239.6,736.2 L240.1,736.8 L240.6,737.5 L240.9,738.3 L241.1,739.0 L241.2,739.8 L241.1,740.4 L240.8,740.9 L240.4,741.3 Z" />
<path class="l" d="M246.6,728.3 L246.1,728.5 L245.5,728.4 L244.9,728.2 L244.3,727.8 L243.7,727.2 L243.3,726.5 L242.9,725.7 L242.7,725.0 L242.7,724.2 L242.8,723.6 L243.1,723.1 L243.5,722.7 L244.0,722.6 L244.5,722.6 L245.1,722.9 L245.7,723.3 L246.3,723.9 L246.7,724.6 L247.1,725.3 L247.3,726.1 L247.3,726.8 L247.2,727.5 L247.0,728.0 L246.6,728.3 Z" />
<path class="l" d="M189.9,715.5 L189.4,715.6 L188.8,715.6 L188.2,715.3 L187.6,714.9 L187.1,714.3 L186.6,713.6 L186.3,712.9 L186.1,712.1 L186.0,711.4 L186.2,710.7 L186.4,710.2 L186.8,709.9 L187.3,709.7 L187.9,709.8 L188.5,710.0 L189.1,710.4 L189.6,711.0 L190.1,711.7 L190.4,712.5 L190.6,713.2 L190.7,714.0 L190.6,714.6 L190.3,715.1 L189.9,715.5 Z" />
<path class="l" d="M203.9,716.3 L203.4,716.4 L202.8,716.4 L202.2,716.1 L201.6,715.7 L201.1,715.1 L200.6,714.4 L200.3,713.7 L200.1,712.9 L200.0,712.1 L200.2,711.5 L200.4,711.0 L200.8,710.6 L201.3,710.5 L201.9,710.5 L202.5,710.8 L203.1,711.2 L203.6,711.8 L204.1,712.5 L204.4,713.3 L204.6,714.0 L204.7,714.8 L204.6,715.4 L204.3,715.9 L203.9,716.3 Z" />
<path class="l" d="M154.6,655.6 L154.1,655.7 L153.5,655.7 L152.9,655.4 L152.3,655.0 L151.7,654.4 L151.3,653.7 L150.9,653.0 L150.7,652.2 L150.7,651.4 L150.8,650.8 L151.1,650.3 L151.5,649.9 L152.0,649.8 L152.5,649.8 L153.1,650.1 L153.7,650.5 L154.3,651.1 L154.7,651.8 L155.1,652.6 L155.3,653.3 L155.3,654.1 L155.2,654.7 L155.0,655.2 L154.6,655.6 Z" />
<path class="l" d="M168.2,669.6 L167.7,669.7 L167.1,669.7 L166.5,669.4 L165.9,669.0 L165.4,668.4 L164.9,667.7 L164.6,667.0 L164.4,666.2 L164.3,665.5 L164.4,664.8 L164.7,664.3 L165.1,664.0 L165.6,663.8 L166.2,663.9 L166.8,664.1 L167.4,664.5 L167.9,665.1 L168.4,665.8 L168.7,666.6 L168.9,667.4 L169.0,668.1 L168.9,668.7 L168.6,669.2 L168.2,669.6 Z" />
<path class="l" d="M155.1,596.6 L154.6,596.8 L154.0,596.7 L153.4,596.5 L152.8,596.0 L152.2,595.5 L151.8,594.8 L151.4,594.0 L151.2,593.2 L151.2,592.5 L151.3,591.8 L151.6,591.3 L151.9,591.0 L152.4,590.8 L153.0,590.9 L153.6,591.1 L154.2,591.6 L154.8,592.1 L155.2,592.8 L155.6,593.6 L155.8,594.4 L155.8,595.1 L155.7,595.8 L155.5,596.3 L155.1,596.6 Z" />
<path class="l" d="M160.4,615.7 L159.8,615.8 L159.3,615.8 L158.7,615.5 L158.1,615.1 L157.5,614.5 L157.1,613.8 L156.7,613.1 L156.5,612.3 L156.5,611.6 L156.6,610.9 L156.8,610.4 L157.2,610.1 L157.7,609.9 L158.3,609.9 L158.9,610.2 L159.5,610.6 L160.1,611.2 L160.5,611.9 L160.9,612.7 L161.1,613.4 L161.1,614.2 L161.0,614.8 L160.7,615.3 L160.4,615.7 Z" />
<path class="l" d="M191.1,573.2 L190.6,573.3 L190.0,573.3 L189.4,573.0 L188.8,572.6 L188.3,572.0 L187.8,571.3 L187.5,570.5 L187.3,569.8 L187.2,569.0 L187.3,568.4 L187.6,567.9 L188.0,567.5 L188.5,567.4 L189.1,567.4 L189.7,567.7 L190.3,568.1 L190.8,568.7 L191.3,569.4 L191.6,570.1 L191.8,570.9 L191.9,571.7 L191.8,572.3 L191.5,572.8 L191.1,573.2 Z" />
<path class="l" d="M184.9,586.1 L184.4,586.2 L183.9,586.2 L183.3,585.9 L182.7,585.5 L182.1,584.9 L181.7,584.2 L181.3,583.5 L181.1,582.7 L181.1,582.0 L181.2,581.3 L181.4,580.8 L181.8,580.5 L182.3,580.3 L182.9,580.4 L183.5,580.6 L184.1,581.0 L184.7,581.6 L185.1,582.3 L185.5,583.1 L185.7,583.8 L185.7,584.6 L185.6,585.2 L185.3,585.7 L184.9,586.1 Z" />
<path class="l" d="M241.6,598.9 L241.1,599.1 L240.5,599.0 L239.9,598.8 L239.3,598.4 L238.8,597.8 L238.3,597.1 L238.0,596.3 L237.8,595.6 L237.7,594.8 L237.8,594.2 L238.1,593.7 L238.5,593.3 L239.0,593.2 L239.6,593.2 L240.2,593.5 L240.8,593.9 L241.3,594.5 L241.8,595.2 L242.1,595.9 L242.3,596.7 L242.4,597.4 L242.2,598.1 L242.0,598.6 L241.6,598.9 Z" />
<path class="l" d="M227.6,598.2 L227.1,598.3 L226.5,598.3 L225.9,598.0 L225.3,597.6 L224.8,597.0 L224.3,596.3 L224.0,595.5 L223.8,594.8 L223.7,594.0 L223.8,593.4 L224.1,592.9 L224.5,592.5 L225.0,592.4 L225.6,592.4 L226.2,592.7 L226.8,593.1 L227.3,593.7 L227.8,594.4 L228.1,595.1 L228.3,595.9 L228.4,596.7 L228.2,597.3 L228.0,597.8 L227.6,598.2 Z" />
<path class="l" d="M276.9,658.9 L276.4,659.0 L275.9,659.0 L275.3,658.7 L274.7,658.3 L274.1,657.7 L273.7,657.0 L273.3,656.2 L273.1,655.5 L273.1,654.7 L273.2,654.1 L273.4,653.6 L273.8,653.2 L274.3,653.1 L274.9,653.1 L275.5,653.4 L276.1,653.8 L276.7,654.4 L277.1,655.1 L277.5,655.8 L277.7,656.6 L277.7,657.4 L277.6,658.0 L277.3,658.5 L276.9,658.9 Z" />
<path class="l" d="M263.3,644.8 L262.8,645.0 L262.2,644.9 L261.6,644.7 L261.0,644.3 L260.5,643.7 L260.0,643.0 L259.7,642.2 L259.5,641.4 L259.4,640.7 L259.5,640.1 L259.8,639.6 L260.2,639.2 L260.7,639.1 L261.3,639.1 L261.9,639.4 L262.5,639.8 L263.0,640.4 L263.5,641.1 L263.8,641.8 L264.0,642.6 L264.1,643.3 L264.0,644.0 L263.7,644.5 L263.3,644.8 Z" />
<path class="l" d="M276.5,717.8 L276.0,718.0 L275.4,717.9 L274.8,717.7 L274.2,717.2 L273.6,716.7 L273.2,716.0 L272.8,715.2 L272.6,714.4 L272.6,713.7 L272.7,713.0 L272.9,712.5 L273.3,712.2 L273.8,712.0 L274.4,712.1 L275.0,712.3 L275.6,712.8 L276.2,713.3 L276.6,714.0 L277.0,714.8 L277.2,715.6 L277.2,716.3 L277.1,717.0 L276.8,717.5 L276.5,717.8 Z" />
<path class="l" d="M271.2,698.7 L270.7,698.9 L270.1,698.9 L269.5,698.6 L268.9,698.2 L268.3,697.6 L267.9,696.9 L267.5,696.1 L267.3,695.4 L267.3,694.6 L267.4,694.0 L267.7,693.5 L268.0,693.1 L268.6,693.0 L269.1,693.0 L269.7,693.3 L270.3,693.7 L270.9,694.3 L271.3,695.0 L271.7,695.7 L271.9,696.5 L271.9,697.2 L271.8,697.9 L271.6,698.4 L271.2,698.7 Z" />
<path class="l" d="M235.2,709.4 L234.5,709.6 L233.8,709.5 L232.9,709.2 L232.1,708.6 L231.4,707.8 L230.8,706.9 L230.3,705.9 L230.1,704.9 L230.0,703.9 L230.2,703.0 L230.5,702.4 L231.0,701.9 L231.7,701.7 L232.5,701.8 L233.3,702.1 L234.1,702.7 L234.8,703.4 L235.4,704.4 L235.9,705.4 L236.1,706.4 L236.2,707.4 L236.1,708.2 L235.7,708.9 L235.2,709.4 Z" /><path class="l" d="M231.9,706.3 L231.4,705.3 L231.2,704.3 L231.1,703.3 L231.3,702.4 L231.6,701.8 L232.1,701.3 L232.8,701.1 L233.6,701.2 L234.4,701.5 L235.2,702.1 L235.9,702.8 L236.5,703.8" />
<path class="l" d="M194.9,687.6 L194.2,687.8 L193.4,687.7 L192.6,687.4 L191.8,686.8 L191.1,686.0 L190.5,685.1 L190.0,684.1 L189.7,683.0 L189.7,682.1 L189.8,681.2 L190.2,680.5 L190.7,680.1 L191.4,679.9 L192.1,679.9 L192.9,680.3 L193.7,680.8 L194.5,681.6 L195.1,682.5 L195.5,683.5 L195.8,684.6 L195.9,685.5 L195.7,686.4 L195.4,687.1 L194.9,687.6 Z" /><path class="l" d="M191.6,684.5 L191.1,683.5 L190.8,682.4 L190.8,681.5 L190.9,680.6 L191.3,679.9 L191.8,679.5 L192.5,679.3 L193.2,679.3 L194.0,679.7 L194.8,680.2 L195.6,681.0 L196.2,681.9" />
<path class="l" d="M175.9,636.3 L175.3,636.5 L174.5,636.4 L173.7,636.1 L172.9,635.5 L172.2,634.8 L171.6,633.8 L171.1,632.8 L170.8,631.8 L170.8,630.8 L170.9,630.0 L171.3,629.3 L171.8,628.8 L172.5,628.6 L173.2,628.7 L174.0,629.0 L174.8,629.6 L175.6,630.4 L176.2,631.3 L176.6,632.3 L176.9,633.3 L177.0,634.3 L176.8,635.2 L176.5,635.8 L175.9,636.3 Z" /><path class="l" d="M172.7,633.2 L172.2,632.2 L171.9,631.2 L171.9,630.2 L172.0,629.4 L172.4,628.7 L172.9,628.2 L173.6,628.0 L174.3,628.1 L175.1,628.4 L175.9,629.0 L176.7,629.8 L177.3,630.7" />
<path class="l" d="M197.4,606.9 L196.7,607.1 L195.9,607.0 L195.1,606.7 L194.3,606.1 L193.6,605.4 L193.0,604.4 L192.5,603.4 L192.3,602.4 L192.2,601.4 L192.3,600.6 L192.7,599.9 L193.2,599.4 L193.9,599.2 L194.6,599.3 L195.5,599.6 L196.3,600.2 L197.0,601.0 L197.6,601.9 L198.1,602.9 L198.3,603.9 L198.4,604.9 L198.2,605.8 L197.9,606.4 L197.4,606.9 Z" /><path class="l" d="M194.1,603.8 L193.6,602.8 L193.4,601.8 L193.3,600.8 L193.4,600.0 L193.8,599.3 L194.3,598.8 L195.0,598.6 L195.7,598.7 L196.6,599.0 L197.4,599.6 L198.1,600.4 L198.7,601.3" />
<path class="l" d="M237.7,628.7 L237.0,628.9 L236.3,628.9 L235.5,628.5 L234.7,628.0 L233.9,627.2 L233.3,626.3 L232.9,625.3 L232.6,624.2 L232.5,623.3 L232.7,622.4 L233.0,621.7 L233.5,621.2 L234.2,621.0 L235.0,621.1 L235.8,621.4 L236.6,622.0 L237.3,622.8 L237.9,623.7 L238.4,624.7 L238.7,625.8 L238.7,626.7 L238.6,627.6 L238.2,628.3 L237.7,628.7 Z" /><path class="l" d="M234.4,625.7 L234.0,624.7 L233.7,623.6 L233.6,622.7 L233.8,621.8 L234.1,621.1 L234.6,620.6 L235.3,620.4 L236.1,620.5 L236.9,620.8 L237.7,621.4 L238.4,622.2 L239.0,623.1" />
<path class="l" d="M256.6,680.0 L255.9,680.2 L255.2,680.1 L254.4,679.8 L253.6,679.2 L252.8,678.4 L252.2,677.5 L251.8,676.5 L251.5,675.5 L251.4,674.5 L251.6,673.6 L251.9,673.0 L252.5,672.5 L253.1,672.3 L253.9,672.4 L254.7,672.7 L255.5,673.3 L256.2,674.0 L256.8,675.0 L257.3,676.0 L257.6,677.0 L257.6,678.0 L257.5,678.8 L257.1,679.5 L256.6,680.0 Z" /><path class="l" d="M253.3,676.9 L252.9,675.9 L252.6,674.9 L252.5,673.9 L252.7,673.0 L253.0,672.4 L253.6,671.9 L254.2,671.7 L255.0,671.8 L255.8,672.1 L256.6,672.7 L257.3,673.4 L257.9,674.4" />
<path class="l" d="M224.9,716.6 L223.1,716.2 L221.4,715.6 L219.6,715.0 L217.8,714.3 L216.0,713.5 L214.2,712.6 L212.4,711.7 L210.6,710.7 L208.8,709.6 L207.1,708.5 L205.3,707.2 L203.5,705.9 L201.8,704.6 L200.0,703.2 L198.6,701.6 L197.6,699.6 L197.2,697.6 L197.3,695.8 L198.0,694.6 L199.3,694.0 L200.8,694.2 L202.4,695.2 L203.8,696.3 L205.3,697.5 L206.7,698.6 L208.2,699.6 L209.7,700.6 L211.2,701.5 L212.7,702.3 L214.2,703.1 L215.7,703.8 L217.2,704.5 L218.7,705.0 L220.2,705.6 L221.7,706.0 L223.1,706.4 L224.7,707.2 L226.2,708.6 L227.4,710.4 L228.0,712.5 L228.0,714.3 L227.5,715.8 L226.4,716.6 Z" />
<path class="l" d="M177.5,675.4 L176.4,673.2 L175.2,671.0 L174.1,668.8 L173.1,666.6 L172.1,664.3 L171.2,662.1 L170.3,659.8 L169.5,657.5 L168.8,655.2 L168.1,652.9 L167.4,650.6 L166.9,648.4 L166.3,646.1 L165.9,643.8 L165.8,641.9 L166.4,640.5 L167.5,639.6 L168.9,639.6 L170.5,640.3 L172.0,641.7 L173.2,643.5 L173.8,645.6 L174.2,647.4 L174.6,649.3 L175.1,651.3 L175.6,653.2 L176.2,655.1 L176.8,657.0 L177.5,658.9 L178.2,660.8 L179.0,662.7 L179.8,664.6 L180.7,666.4 L181.6,668.3 L182.6,670.1 L183.6,672.0 L184.4,674.0 L184.6,675.9 L184.2,677.5 L183.3,678.6 L181.9,678.9 L180.4,678.4 L178.8,677.1 Z" />
<path class="l" d="M166.8,613.2 L167.4,611.5 L168.0,609.8 L168.7,608.2 L169.5,606.7 L170.3,605.2 L171.2,603.8 L172.1,602.5 L173.1,601.2 L174.1,600.0 L175.2,598.9 L176.3,597.8 L177.5,596.8 L178.8,595.9 L180.0,595.1 L181.4,594.7 L183.0,595.2 L184.5,596.4 L185.8,598.1 L186.7,600.1 L186.9,602.1 L186.6,603.7 L185.6,604.8 L184.6,605.5 L183.5,606.3 L182.6,607.1 L181.6,608.0 L180.7,608.9 L179.8,609.9 L179.0,611.0 L178.2,612.1 L177.5,613.3 L176.8,614.5 L176.2,615.8 L175.6,617.1 L175.1,618.5 L174.6,619.9 L173.8,621.2 L172.6,621.7 L171.1,621.5 L169.5,620.5 L168.1,618.9 L167.1,617.0 L166.7,615.0 Z" />
<path class="l" d="M203.5,592.2 L205.3,592.6 L207.0,593.2 L208.8,593.8 L210.6,594.5 L212.4,595.3 L214.2,596.2 L216.0,597.1 L217.8,598.1 L219.6,599.2 L221.3,600.3 L223.1,601.6 L224.9,602.9 L226.6,604.2 L228.4,605.6 L229.8,607.2 L230.8,609.2 L231.2,611.2 L231.1,613.0 L230.4,614.2 L229.1,614.8 L227.6,614.6 L226.0,613.6 L224.6,612.5 L223.1,611.3 L221.7,610.2 L220.2,609.2 L218.7,608.2 L217.2,607.3 L215.7,606.5 L214.2,605.7 L212.7,605.0 L211.2,604.3 L209.7,603.8 L208.2,603.2 L206.7,602.8 L205.3,602.4 L203.7,601.6 L202.2,600.2 L201.0,598.4 L200.4,596.3 L200.4,594.5 L200.9,593.0 L202.0,592.2 Z" />
<path class="l" d="M250.9,633.4 L252.0,635.6 L253.2,637.8 L254.3,640.0 L255.3,642.2 L256.3,644.5 L257.2,646.7 L258.1,649.0 L258.9,651.3 L259.6,653.6 L260.3,655.9 L261.0,658.2 L261.5,660.4 L262.1,662.7 L262.5,665.0 L262.6,666.9 L262.0,668.3 L260.9,669.2 L259.5,669.2 L257.9,668.5 L256.4,667.1 L255.2,665.3 L254.6,663.2 L254.2,661.4 L253.8,659.5 L253.3,657.5 L252.8,655.6 L252.2,653.7 L251.6,651.8 L250.9,649.9 L250.2,648.0 L249.4,646.1 L248.6,644.2 L247.7,642.4 L246.8,640.5 L245.8,638.7 L244.8,636.8 L244.0,634.8 L243.8,632.9 L244.2,631.3 L245.1,630.2 L246.5,629.9 L248.0,630.4 L249.6,631.7 Z" />
<path class="l" d="M261.6,695.6 L261.0,697.3 L260.4,699.0 L259.7,700.6 L258.9,702.1 L258.1,703.6 L257.2,705.0 L256.3,706.3 L255.3,707.6 L254.3,708.8 L253.2,709.9 L252.1,711.0 L250.9,712.0 L249.6,712.9 L248.4,713.7 L247.0,714.1 L245.4,713.6 L243.9,712.4 L242.6,710.7 L241.7,708.7 L241.5,706.7 L241.8,705.1 L242.8,704.0 L243.8,703.3 L244.9,702.5 L245.8,701.7 L246.8,700.8 L247.7,699.9 L248.6,698.9 L249.4,697.8 L250.2,696.7 L250.9,695.5 L251.6,694.3 L252.2,693.0 L252.8,691.7 L253.3,690.3 L253.8,688.9 L254.6,687.6 L255.8,687.1 L257.3,687.3 L258.9,688.3 L260.3,689.9 L261.3,691.8 L261.7,693.8 Z" />
</g>
<polyline class="l" points="186.00,537.00 186.00,555.50" />
<polyline class="l" points="300.80,562.00 300.80,580.00" />
<polyline class="l" points="285.40,597.40 237.00,624.60" stroke-dasharray="14 2.5 2.5 2.5"/>
<g id="p92150A"><path class="f" d="M303.22,594.96 L305.81,593.46 A6.5520000000000005,4.212000000000001 61 0 0 299.38,582.04 L296.78,583.54 A6.5520000000000005,4.212000000000001 61 0 0 303.22,594.96 Z" /><path class="l" d="M304.39,594.28 A6.5520000000000005,4.212000000000001 61 0 0 297.95,582.87" /><path class="f" d="M302.22,597.67 L304.12,596.57 A8.4,5.4 61 0 0 295.87,581.93 L293.97,583.03 A8.4,5.4 61 0 0 302.22,597.67 Z" /><ellipse class="l" cx="298.09" cy="590.35" rx="8.4" ry="5.4" transform="rotate(61 298.09 590.35)"/><path class="n" d="M290.92,599.00 L300.01,593.75 L296.18,586.95 L287.08,592.20 Z" /><polyline class="l" points="290.92,599.00 300.01,593.75" /><polyline class="l" points="287.08,592.20 296.18,586.95" /><ellipse class="f" cx="289.00" cy="595.60" rx="3.9" ry="2.5" transform="rotate(61 289.00 595.60)"/><path class="l" d="M293.03,597.78 A3.9,2.5 61 0 1 289.20,590.98" /><path class="l" d="M295.14,596.56 A3.9,2.5 61 0 1 291.31,589.76" /><path class="l" d="M297.26,595.33 A3.9,2.5 61 0 1 293.43,588.54" /><path class="l" d="M299.37,594.11 A3.9,2.5 61 0 1 295.54,587.32" /></g>
<g class="l" id="overlay">
<polyline points="479.5,358.3 306,458.5" />
<polyline points="193.8,203.3 227,184.2" />
<polyline points="164.3,232.5 240,190" />
</g>
<path d="M18,36 L56,37.5 L39,66.5 Z" fill="#000"/>
<path d="M49.5,49.5 L87,68.5 L83,76 L45.5,57 Z" fill="#000"/>
<g class="t" id="labels" filter="url(#thr)">
<text x="305.5" y="41" textLength="34.5" lengthAdjust="spacingAndGlyphs">92075</text>
<text x="378.4" y="37" textLength="34.6" lengthAdjust="spacingAndGlyphs">92150</text>
<text x="387" y="109.7" textLength="34.3" lengthAdjust="spacingAndGlyphs">92150</text>
<text x="463.5" y="106" textLength="34.5" lengthAdjust="spacingAndGlyphs">43080</text>
<text x="359.5" y="156.3" textLength="34.0" lengthAdjust="spacingAndGlyphs">43056</text>
<text x="323.7" y="173.8" textLength="34.3" lengthAdjust="spacingAndGlyphs">43057</text>
<text x="102" y="150.2" textLength="43.5" lengthAdjust="spacingAndGlyphs">49006A</text>
<text x="88" y="219.6" textLength="43.3" lengthAdjust="spacingAndGlyphs">43049B</text>
<text x="53" y="249.3" textLength="34" lengthAdjust="spacingAndGlyphs">43048</text>
<text x="136.3" y="291.8" textLength="43.7" lengthAdjust="spacingAndGlyphs">43049A</text>
<text x="226.3" y="267.6" textLength="33.7" lengthAdjust="spacingAndGlyphs">49006</text>
<text x="83.7" y="327.2" textLength="33.9" lengthAdjust="spacingAndGlyphs">92081</text>
<text x="522" y="297.4" textLength="20" lengthAdjust="spacingAndGlyphs">132</text>
<text x="53" y="379.6" textLength="34" lengthAdjust="spacingAndGlyphs">43082</text>
<text x="242.5" y="379" textLength="34.5" lengthAdjust="spacingAndGlyphs">43049</text>
<text x="475.4" y="438" textLength="43.6" lengthAdjust="spacingAndGlyphs">43034A</text>
<text x="291" y="518.3" textLength="34" lengthAdjust="spacingAndGlyphs">43044</text>
<text x="167.5" y="533.3" textLength="34.3" lengthAdjust="spacingAndGlyphs">41080</text>
<text x="282.2" y="558.5" textLength="44.5" lengthAdjust="spacingAndGlyphs">92150A</text>
</g>
<g id="wm" opacity="0.2">
<text transform="translate(225.5,430.8) rotate(-29.2)" font-family="Liberation Sans, sans-serif" font-weight="bold" font-size="23.5" fill="#000" stroke="#000" stroke-width="0.5" textLength="143" lengthAdjust="spacingAndGlyphs">Parts-Republik</text>
<path d="M343.2,339 C345,336 347,334.8 349,334.4 C353,333.6 356,334 358.4,332.6 C360.6,331 362,328.6 363,326 C365.5,330.5 370,335 372,339.4 C372.4,342.4 371.4,345 369.6,346.4 C366.6,348.4 363,347.6 359.4,346.4 C356.8,346 354.8,347.2 353.8,348.8 L351.4,353.6 Z" fill="#000"/>
</g>
<g transform="translate(357.2,340.4)" fill="none" stroke="#fff"><circle r="4.6" stroke-width="2.2" stroke-dasharray="1.9 1.7"/><circle r="3.4" stroke-width="1.3"/><circle r="1.2" stroke-width="0.9"/></g>
</svg></body></html>
